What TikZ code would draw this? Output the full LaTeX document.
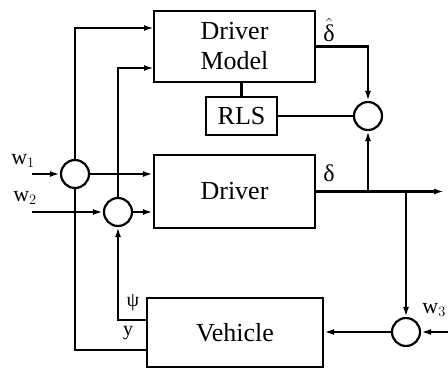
\documentclass[tikz,border=0pt]{standalone}
\usepackage{amsmath}
\usepackage{fontspec}
\setmainfont{Liberation Serif}
\usepackage{tikz}
\usetikzlibrary{calc, arrows.meta, positioning}

\tikzset{
    blok/.style={draw, line width=2.2pt, minimum width=#1, inner sep=0pt, align=center},
    som/.style={draw, circle, line width=2.2pt, minimum size=28pt, inner sep=0pt},
    lbl/.style={inner sep=0pt, font=\fontsize{24}{26}\selectfont}
}

\begin{document}
\begin{tikzpicture}[>={Latex[length=10pt,width=6pt]}, x=1pt, y=-1pt, line width=2.2pt,
    font=\fontsize{26}{30}\selectfont]
    \useasboundingbox (0,0) rectangle (448,370);

    % Các khối
    \node[blok=161pt, minimum height=71pt] (dm) at (234.5,46.5) {Driver\\Model};
    \node[blok=71pt, minimum height=38pt] (rls) at (241.5,116) {RLS};
    \node[blok=161pt, minimum height=73pt] (drv) at (234.5,191.5) {Driver};
    \node[blok=176pt, minimum height=69pt] (veh) at (235,332.5) {Vehicle};

    % Các nút cộng
    \node[som] (s1) at (75,174) {};
    \node[som] (s2) at (118,212) {};
    \node[som] (s3) at (368,116) {};
    \node[som] (s4) at (406,332) {};

    % Các điểm mốc
    \coordinate (w1) at (32,174);
    \coordinate (w2) at (32,212);
    \coordinate (w3) at (452,332);
    \coordinate (a1) at (154,28);
    \coordinate (a2) at (154,68);
    \coordinate (psi) at (147,320);
    \coordinate (yy) at (147,350);
    \coordinate (out) at (444,191.5);

    % Đầu vào
    \draw[->] (w1) -- (s1.west);
    \draw[->] (w2) -- (s2.west);
    \draw[->] (w3) -- (s4.east);

    % Tới Driver và Driver Model
    \draw[->] (s1.east) -- (drv.west |- s1);
    \draw[->] (s2.east) -- (drv.west |- s2);
    \draw[->] (s1.north) |- (a1);
    \draw[->] (s2.north) |- (a2);

    % Driver Model, RLS
    \draw[->] (dm.east) -| (s3.north);
    \draw (rls.north) -- (rls.north |- dm.south);
    \draw (rls.east) -- (s3.west);

    % Đầu ra của Driver
    \draw[->] (drv.east) -- (out);
    \draw[->] (s3.south |- drv.east) -- (s3.south);
    \draw[->] (s4.north |- drv.east) -- (s4.north);
    \draw[->] (s4.west) -- (veh.east |- s4);

    % Phản hồi từ Vehicle
    \draw[->] (psi) -| (s2.south);
    \draw (yy) -| (s1.south);

    % Nhãn
    \node[lbl] at (329,30) {$\hat{\text{δ}}$};
    \node[lbl] at (329,173) {δ};
    \node[lbl, font=\fontsize{22}{24}\selectfont] at (23,161) {w$_1$};
    \node[lbl, font=\fontsize{22}{24}\selectfont] at (25,198) {w$_2$};
    \node[lbl, anchor=east, font=\fontsize{22}{24}\selectfont] at (447,310) {w$_3$};
    \node[lbl, font=\fontsize{20}{22}\selectfont] at (133,303) {ψ};
    \node[lbl, font=\fontsize{20}{22}\selectfont] at (128,333) {y};
\end{tikzpicture}
\end{document}
